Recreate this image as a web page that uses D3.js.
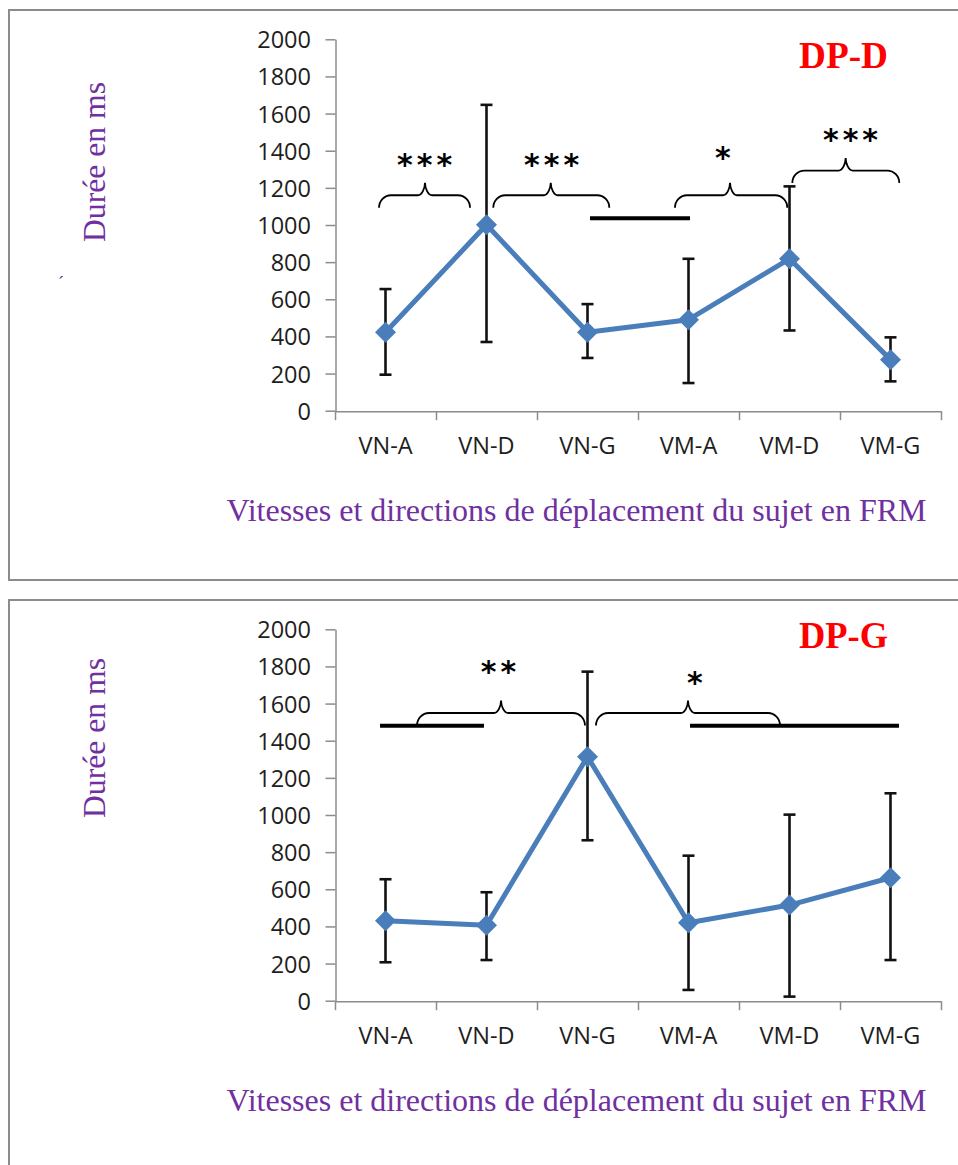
<!DOCTYPE html>
<html>
<head>
<meta charset="utf-8">
<script src="https://cdn.jsdelivr.net/npm/d3@7"></script>
<style>
  body { margin: 0; background: #fff; }
  svg { display: block; }
</style>
</head>
<body>
<svg id="chart" width="958" height="1165"></svg>
<script>
// Conditions: speed (VN = normal, VM = modified) x direction (A, D, G)
const categories = ["VN-A", "VN-D", "VN-G", "VM-A", "VM-D", "VM-G"];
const yTickValues = [0, 200, 400, 600, 800, 1000, 1200, 1400, 1600, 1800, 2000];

// DP-D: mean duration (ms) with error-bar bounds
const dpdMean = [422, 1001, 422, 490, 818, 275];
const dpdLow  = [194, 370, 284, 149, 432, 158];
const dpdHigh = [655, 1647, 574, 818, 1208, 395];

// DP-G: mean duration (ms) with error-bar bounds
const dpgMean = [431, 406, 1314, 420, 515, 662];
const dpgLow  = [207, 219, 864, 58, 22, 219];
const dpgHigh = [654, 584, 1772, 781, 1002, 1117];

// Significance braces, in category-index units (x) and ms (y)
const dpdBraces = [
  { from: 0.436, to: 1.337, peak: 0.891, base: 1093, stars: "***", starX: 0.887, starY: 1352 },
  { from: 1.567, to: 2.716, peak: 2.136, base: 1093, stars: "***", starX: 2.144, starY: 1352 },
  { from: 3.366, to: 4.478, peak: 3.911, base: 1093, stars: "*",   starX: 3.839, starY: 1389 },
  { from: 4.528, to: 5.587, peak: 5.056, base: 1226, stars: "***", starX: 5.104, starY: 1486 }
];
const dpdBars = [ { from: 2.525, to: 3.515, at: 1037 } ];

const dpgBraces = [
  { from: 0.812, to: 2.475, peak: 1.644, base: 1482, stars: "**", starX: 1.619, starY: 1797 },
  { from: 2.584, to: 4.406, peak: 3.495, base: 1482, stars: "*",  starX: 3.564, starY: 1739 }
];
const dpgBars = [
  { from: 0.446, to: 1.475, at: 1481 },
  { from: 3.515, to: 5.584, at: 1481 }
];

const svg = d3.select("#chart");
svg.append("rect").attr("width", 958).attr("height", 1165).attr("fill", "#fff");

const LINE_COLOR = "#4A7EBB";
const AXIS_COLOR = "#8C8C8C";
const PURPLE = "#7030A0";
const STAR_SIZE = 30;
const STAR_GAP = 4;

function bracePath(x1, x2, xp, yb, h) {
  const yt = yb - h, ym = yb - h / 2;
  const r = 12, rc = 7, k = 0.55;
  return [
    `M${x1},${yb}`,
    `C${x1},${yb - k * (h / 2)} ${x1 + r * (1 - k)},${ym} ${x1 + r},${ym}`,
    `L${xp - rc},${ym}`,
    `C${xp - rc * (1 - k)},${ym} ${xp},${ym - k * (h / 2)} ${xp},${yt}`,
    `C${xp},${ym - k * (h / 2)} ${xp + rc * (1 - k)},${ym} ${xp + rc},${ym}`,
    `L${x2 - r},${ym}`,
    `C${x2 - r * (1 - k)},${ym} ${x2},${yb - k * (h / 2)} ${x2},${yb}`
  ].join(" ");
}

function drawPanel(cfg) {
  const g = svg.append("g");

  // frame around the panel
  g.append("rect")
    .attr("x", 9).attr("y", cfg.frameTop)
    .attr("width", 970).attr("height", cfg.frameHeight)
    .attr("fill", "none").attr("stroke", AXIS_COLOR).attr("stroke-width", 2);

  const x = d3.scaleBand().domain(categories).range([335, 941]).padding(0);
  const xi = d3.scaleLinear().domain([0, categories.length]).range([335, 941]);
  const y = d3.scaleLinear().domain([0, 2000]).range([cfg.yBottom, cfg.yTop]);
  const cx = c => x(c) + x.bandwidth() / 2;

  // y axis
  const yAxis = g.append("g")
    .attr("transform", "translate(335.5,0)")
    .call(d3.axisLeft(y).tickValues(yTickValues).tickFormat(d3.format("d"))
      .tickSize(10).tickPadding(14.5).tickSizeOuter(0));
  yAxis.select(".domain").attr("stroke", AXIS_COLOR).attr("stroke-width", 1.5);
  yAxis.selectAll(".tick line").attr("stroke", AXIS_COLOR).attr("stroke-width", 1.5);
  yAxis.selectAll(".tick text")
    .attr("fill", "#1e1e1e").attr("dy", "0.36em")
    .style("font-family", "'Open Sans', sans-serif").style("font-size", "23.5px");

  // x axis: ticks at category boundaries, labels centred in each band
  const xAxis = g.append("g")
    .attr("transform", `translate(0,${cfg.yBottom + 0.5})`)
    .call(d3.axisBottom(xi).tickValues(d3.range(categories.length + 1)).tickSize(9).tickSizeOuter(0).tickFormat(""));
  xAxis.select(".domain").attr("stroke", AXIS_COLOR).attr("stroke-width", 1.5);
  xAxis.selectAll(".tick line").attr("stroke", AXIS_COLOR).attr("stroke-width", 1.5);

  g.selectAll(".xlab").data(categories).join("text")
    .attr("x", d => cx(d)).attr("y", cfg.yBottom + 43.3)
    .attr("text-anchor", "middle").attr("fill", "#1e1e1e")
    .style("font-family", "'Open Sans', sans-serif").style("font-size", "23.5px")
    .text(d => d);

  // axis titles
  g.append("text")
    .attr("x", 576.5).attr("y", cfg.yBottom + 109.8)
    .attr("text-anchor", "middle").attr("fill", PURPLE)
    .attr("textLength", 700).attr("lengthAdjust", "spacingAndGlyphs")
    .style("font-family", "'Liberation Serif', 'Times New Roman', serif").style("font-size", "31px")
    .text("Vitesses et directions de déplacement du sujet en FRM");

  g.append("text")
    .attr("transform", `translate(105,${cfg.yTitleCenter}) rotate(-90)`)
    .attr("text-anchor", "middle").attr("fill", PURPLE)
    .attr("textLength", 160).attr("lengthAdjust", "spacingAndGlyphs")
    .style("font-family", "'Liberation Serif', 'Times New Roman', serif").style("font-size", "32px")
    .text("Durée en ms");

  // panel title
  g.append("text")
    .attr("x", 799).attr("y", cfg.titleBaseline)
    .attr("fill", "#FF0000").attr("textLength", 89).attr("lengthAdjust", "spacingAndGlyphs")
    .style("font-family", "'Liberation Serif', 'Times New Roman', serif")
    .style("font-size", "38px").style("font-weight", "bold")
    .text(cfg.title);

  const rows = categories.map((c, i) => ({ c, m: cfg.mean[i], lo: cfg.low[i], hi: cfg.high[i] }));

  // error bars
  const eb = g.append("g").attr("stroke", "#111").attr("stroke-width", 2.6).attr("fill", "none");
  eb.selectAll(".v").data(rows).join("line")
    .attr("x1", d => cx(d.c)).attr("x2", d => cx(d.c))
    .attr("y1", d => y(d.lo)).attr("y2", d => y(d.hi));
  eb.selectAll(".capHi").data(rows).join("line")
    .attr("x1", d => cx(d.c) - 6).attr("x2", d => cx(d.c) + 6)
    .attr("y1", d => y(d.hi)).attr("y2", d => y(d.hi));
  eb.selectAll(".capLo").data(rows).join("line")
    .attr("x1", d => cx(d.c) - 6).attr("x2", d => cx(d.c) + 6)
    .attr("y1", d => y(d.lo)).attr("y2", d => y(d.lo));

  // mean line with diamond markers
  g.append("path").datum(rows)
    .attr("fill", "none").attr("stroke", LINE_COLOR).attr("stroke-width", 5)
    .attr("stroke-linejoin", "round")
    .attr("d", d3.line().x(d => cx(d.c)).y(d => y(d.m)));
  g.selectAll(".mk").data(rows).join("path")
    .attr("transform", d => `translate(${cx(d.c)},${y(d.m)})`)
    .attr("fill", LINE_COLOR)
    .attr("d", "M0,-10.5 L10.5,0 L0,10.5 L-10.5,0 Z");

  // significance braces and bars
  g.selectAll(".brace").data(cfg.braces).join("path")
    .attr("fill", "none").attr("stroke", "#000").attr("stroke-width", 1.8)
    .attr("d", d => bracePath(xi(d.from), xi(d.to), xi(d.peak), y(d.base), 25));
  g.selectAll(".stars").data(cfg.braces).join("text")
    .attr("x", d => xi(d.starX) + STAR_GAP / 2).attr("y", d => y(d.starY) + STAR_SIZE * 0.515)
    .attr("text-anchor", "middle").attr("fill", "#000")
    .style("font-family", "'DejaVu Sans', sans-serif").style("font-size", STAR_SIZE + "px")
    .style("font-weight", "bold").style("letter-spacing", STAR_GAP + "px")
    .text(d => d.stars);
  g.selectAll(".bar").data(cfg.bars).join("line")
    .attr("x1", d => xi(d.from)).attr("x2", d => xi(d.to))
    .attr("y1", d => y(d.at)).attr("y2", d => y(d.at))
    .attr("stroke", "#000").attr("stroke-width", 4);

  return g;
}

const panelD = drawPanel({
  title: "DP-D", frameTop: 10, frameHeight: 570,
  yTop: 39.3, yBottom: 410.7, yTitleCenter: 162, titleBaseline: 68,
  mean: dpdMean, low: dpdLow, high: dpdHigh, braces: dpdBraces, bars: dpdBars
});
panelD.append("text")
  .attr("x", 58).attr("y", 289).attr("fill", PURPLE)
  .style("font-family", "'Liberation Serif', serif").style("font-size", "18px")
  .text("´");

drawPanel({
  title: "DP-G", frameTop: 600, frameHeight: 600,
  yTop: 629.3, yBottom: 1000.7, yTitleCenter: 738, titleBaseline: 648,
  mean: dpgMean, low: dpgLow, high: dpgHigh, braces: dpgBraces, bars: dpgBars
});
</script>
</body>
</html>
